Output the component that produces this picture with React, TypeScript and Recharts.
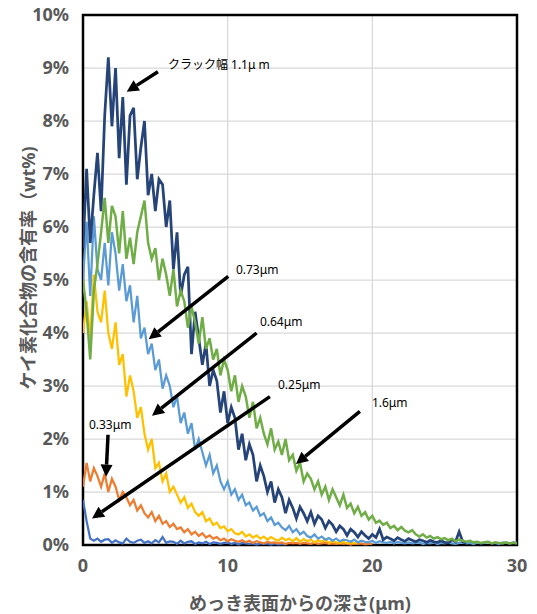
import React from 'react';
import { LineChart, Line, XAxis, YAxis, CartesianGrid, ReferenceLine, ReferenceDot, ReferenceArea } from 'recharts';

// depth step of the measurement (µm)
const STEP = 0.25;

const xTicks = [0, 10, 20, 30];
const yTicks = [0, 1, 2, 3, 4, 5, 6, 7, 8, 9, 10];

// silicide content (wt%) per crack width
const crack025 = [
  0.85, 0.45, 0.12, 0.08, 0.12, 0.06, 0.1, 0.11, 0.04, 0.09, 0.05, 0.03, 0.12, 0.06, 0.04, 0.08, 0.1, 0.04, 0.07, 0.03,
  0.09, 0.05, 0.15, 0.04, 0.07, 0.06, 0.02, 0.08, 0.03, 0.06, 0.07, 0.02, 0.05, 0.03, 0.06, 0.02, 0.05, 0.04, 0.02, 0.04,
  0.05, 0.02, 0.04, 0.01, 0.04, 0.03, 0.02, 0.03, 0.01, 0.03, 0.02, 0.03, 0.01, 0.03, 0.01, 0.02, 0.01,
];
const crack033 = [
  1.1, 1.55, 1.2, 1.45, 1.3, 1.1, 1.35, 1.0, 1.25, 1.1, 0.85, 1.0, 0.9, 0.75, 0.85, 0.65, 0.75, 0.6, 0.52, 0.62,
  0.45, 0.55, 0.4, 0.45, 0.34, 0.4, 0.3, 0.33, 0.24, 0.3, 0.2, 0.25, 0.17, 0.22, 0.14, 0.18, 0.12, 0.15, 0.09, 0.12,
  0.07, 0.11, 0.08, 0.06, 0.09, 0.05, 0.08, 0.04, 0.07, 0.05, 0.03, 0.06, 0.04, 0.05, 0.03, 0.05, 0.02, 0.04, 0.03, 0.04,
  0.02, 0.04, 0.03, 0.02, 0.04, 0.02, 0.03, 0.04, 0.02, 0.03, 0.02, 0.03, 0.02, 0.03, 0.01, 0.03, 0.02, 0.03, 0.01, 0.02, 0.02,
];
const crack064 = [
  4.0, 4.6, 3.9, 5.1, 4.4, 4.2, 4.8, 4.0, 3.7, 4.2, 3.4, 3.6, 2.8, 3.2, 2.9, 2.4, 2.6, 2.1, 1.8, 2.0,
  1.45, 1.55, 1.2, 1.35, 1.0, 1.1, 0.95, 0.8, 0.9, 0.7, 0.78, 0.62, 0.55, 0.62, 0.45, 0.5, 0.38, 0.42, 0.32, 0.35,
  0.26, 0.3, 0.22, 0.2, 0.25, 0.16, 0.2, 0.14, 0.18, 0.12, 0.16, 0.1, 0.15, 0.11, 0.08, 0.14, 0.09, 0.12, 0.07, 0.13,
  0.06, 0.11, 0.07, 0.1, 0.05, 0.09, 0.06, 0.1, 0.04, 0.07, 0.05, 0.04, 0.06, 0.03, 0.05, 0.03, 0.04,
];
const crack073 = [
  5.0, 6.1, 4.7, 6.2, 5.2, 5.0, 5.7, 4.9, 5.9, 5.5, 4.8, 5.3, 4.6, 4.9, 4.2, 4.7, 3.9, 4.1, 3.6, 3.8,
  3.3, 3.5, 2.95, 3.2, 3.0, 2.6, 2.8, 2.3, 2.5, 2.1, 2.3, 1.8, 2.0, 1.75, 1.5, 1.7, 1.35, 1.5, 1.2, 1.05,
  1.2, 0.95, 1.05, 0.85, 0.95, 0.75, 0.8, 0.65, 0.72, 0.55, 0.6, 0.45, 0.52, 0.38, 0.42, 0.33, 0.28, 0.36, 0.24, 0.3,
  0.2, 0.25, 0.17, 0.14, 0.2, 0.12, 0.16, 0.1, 0.13, 0.08, 0.12, 0.07, 0.1, 0.09, 0.06, 0.1, 0.05, 0.08, 0.06, 0.05,
  0.08, 0.04, 0.07, 0.05, 0.04, 0.06, 0.03, 0.06, 0.04, 0.03, 0.05, 0.03, 0.04, 0.05, 0.02, 0.04, 0.03, 0.05, 0.02, 0.04,
  0.03, 0.05, 0.03, 0.02, 0.04, 0.05, 0.03, 0.04, 0.02, 0.05, 0.03, 0.04, 0.06, 0.03, 0.04, 0.02, 0.05, 0.04, 0.03, 0.05, 0.04,
];
const crack110 = [
  5.6, 7.1, 5.7, 6.6, 7.4, 6.3, 8.1, 9.2, 7.9, 9.0, 7.3, 8.45, 6.8, 8.1, 8.25, 6.9, 7.5, 8.0, 6.6, 7.0,
  6.3, 6.9, 6.8, 6.0, 6.5, 5.2, 5.9, 4.7, 5.1, 5.25, 3.6, 4.4, 3.9, 3.4, 3.8, 3.0, 3.3, 3.1, 2.5, 2.9,
  2.3, 2.6, 2.4, 1.8, 2.1, 1.6, 1.9, 1.7, 1.2, 1.5, 1.3, 1.0, 1.2, 0.8, 1.05, 0.9, 0.6, 0.85, 0.7, 0.5,
  0.72, 0.6, 0.45, 0.62, 0.4, 0.55, 0.48, 0.32, 0.45, 0.38, 0.25, 0.36, 0.3, 0.18, 0.3, 0.24, 0.15, 0.25, 0.18, 0.12,
  0.2, 0.14, 0.3, 0.1, 0.15, 0.12, 0.08, 0.14, 0.1, 0.07, 0.12, 0.09, 0.06, 0.1, 0.08, 0.05, 0.09, 0.06, 0.05, 0.08,
  0.05, 0.04, 0.1, 0.06, 0.25, 0.06, 0.04,
];
const crack160 = [
  5.0, 4.4, 3.5, 4.8, 5.3, 5.9, 6.55, 5.7, 6.4, 6.2, 5.5, 6.3, 5.4, 5.8, 5.3, 5.9, 6.2, 6.5, 5.7, 5.4,
  5.6, 5.0, 5.4, 5.1, 4.7, 5.2, 4.5, 4.8, 4.6, 4.1, 4.5, 4.2, 3.8, 4.3, 3.7, 3.9, 3.5, 3.7, 3.2, 3.5,
  3.3, 2.9, 3.2, 2.7, 3.0, 2.8, 2.4, 2.7, 2.2, 2.4, 2.1, 1.9, 2.2, 1.8, 1.95, 1.7, 2.0, 1.6, 1.7, 1.4,
  1.55, 1.2, 1.35, 1.25, 1.05, 1.2, 0.95, 1.1, 0.85, 1.05, 0.9, 0.75, 0.95, 0.7, 0.78, 0.6, 0.72, 0.55, 0.62, 0.48,
  0.55, 0.42, 0.46, 0.38, 0.42, 0.32, 0.36, 0.28, 0.34, 0.27, 0.24, 0.28, 0.2, 0.16, 0.2, 0.14, 0.17, 0.12, 0.15, 0.11,
  0.13, 0.09, 0.12, 0.07, 0.1, 0.08, 0.06, 0.08, 0.05, 0.06, 0.04, 0.05, 0.06, 0.03, 0.05, 0.04, 0.03, 0.05, 0.03, 0.04, 0.03,
];

// annotation arrows: label text, label anchor, arrow tail, arrow tip (data coords)
const notes = [
  { text: 'クラック幅 1.1μ m', tx: 5.87, ty: 8.98, x1: 5.18, y1: 8.93, x2: 3.02, y2: 8.55 },
  { text: '0.73μm', tx: 10.57, ty: 5.12, x1: 10.04, y1: 5.07, x2: 4.54, y2: 3.88 },
  { text: '0.64μm', tx: 12.23, ty: 4.14, x1: 12.0, y1: 4.0, x2: 4.77, y2: 2.44 },
  { text: '0.25μm', tx: 13.48, ty: 2.95, x1: 12.92, y1: 2.8, x2: 0.62, y2: 0.5 },
  { text: '1.6μm', tx: 19.97, ty: 2.61, x1: 19.14, y1: 2.52, x2: 14.72, y2: 1.53 },
  { text: '0.33μm', tx: 0.41, ty: 2.19, x1: 1.73, y1: 2.08, x2: 1.59, y2: 1.29 },
];

const series = [
  { name: '0.25μm', values: crack025, color: '#4472C4', width: 2.25 },
  { name: '0.33μm', values: crack033, color: '#ED7D31', width: 2.25 },
  { name: '0.64μm', values: crack064, color: '#FFC000', width: 2.25 },
  { name: '0.73μm', values: crack073, color: '#5B9BD5', width: 2.25 },
  { name: '1.1μm', values: crack110, color: '#264478', width: 2.75 },
  { name: '1.6μm', values: crack160, color: '#70AD47', width: 2.5 },
];

const toPoints = (vals: number[]) => vals.map((v, i) => ({ depth: i * STEP, value: v }));

const FONT = '"Noto Sans", "Noto Sans CJK JP", sans-serif';
const GRAY = '#595959';

const Arrow = (props: any) => {
  const { x1, y1, x2, y2 } = props;
  const ang = Math.atan2(y2 - y1, x2 - x1);
  const len = 12;
  const half = 6;
  const bx = x2 - len * Math.cos(ang);
  const by = y2 - len * Math.sin(ang);
  const px = -Math.sin(ang) * half;
  const py = Math.cos(ang) * half;
  return (
    <g>
      <line x1={x1} y1={y1} x2={bx} y2={by} stroke="#000" strokeWidth={3.5} />
      <polygon points={`${x2},${y2} ${bx + px},${by + py} ${bx - px},${by - py}`} fill="#000" />
    </g>
  );
};

const YTitle = (props: any) => {
  const { viewBox } = props;
  const cx = viewBox.x + 28;
  const cy = viewBox.y + viewBox.height / 2 - 12;
  return (
    <text
      transform={`translate(${cx}, ${cy}) rotate(-90)`}
      textAnchor="middle"
      dominantBaseline="central"
      fill={GRAY}
      fontSize={18}
      fontWeight="bold"
      fontFamily={FONT}
    >
      ケイ素化合物の含有率（wt%)
    </text>
  );
};

const App: React.FC = () => {
  return (
    <div style={{ position: 'absolute', left: 0, top: 0, width: 537, height: 614, background: '#fff' }}>
      <LineChart width={537} height={614} margin={{ top: 15, right: 20, left: 0, bottom: 0 }}>
        <CartesianGrid stroke="#d9d9d9" strokeWidth={1.25} />
        <XAxis
          type="number"
          dataKey="depth"
          domain={[0, 30]}
          allowDataOverflow
          ticks={xTicks}
          height={69}
          axisLine={false}
          tickLine={false}
          tickSize={0}
          tickMargin={14}
          tick={{ fill: GRAY, fontSize: 18, fontWeight: 'bold', fontFamily: FONT }}
          label={{
            value: 'めっき表面からの深さ(μm)',
            position: 'insideBottom',
            offset: 4,
            style: { fill: GRAY, fontSize: 18, fontWeight: 'bold', fontFamily: FONT },
          }}
        />
        <YAxis
          type="number"
          dataKey="value"
          domain={[0, 10]}
          ticks={yTicks}
          width={83}
          axisLine={false}
          tickLine={false}
          tickSize={0}
          tickMargin={14}
          tickFormatter={(v: number) => `${v}%`}
          tick={{ fill: GRAY, fontSize: 18, fontWeight: 'bold', fontFamily: FONT }}
          label={<YTitle />}
        />
        {series.map((s) => (
          <Line
            key={s.name}
            data={toPoints(s.values)}
            dataKey="value"
            name={s.name}
            type="linear"
            stroke={s.color}
            strokeWidth={s.width}
            dot={false}
            activeDot={false}
            isAnimationActive={false}
          />
        ))}
        <ReferenceArea x1={0} x2={30} y1={0} y2={10} fill="none" stroke="#000" strokeWidth={2.5} ifOverflow="visible" />
        {notes.map((n) => (
          <ReferenceLine
            key={'a' + n.text}
            segment={[{ x: n.x1, y: n.y1 }, { x: n.x2, y: n.y2 }]}
            shape={<Arrow />}
            ifOverflow="visible"
          />
        ))}
        {notes.map((n) => (
          <ReferenceDot
            key={'t' + n.text}
            x={n.tx}
            y={n.ty}
            r={0}
            ifOverflow="visible"
            shape={(p: any) => (
              <text x={p.cx} y={p.cy} fontSize={12} fill="#000" fontFamily={FONT}>
                {n.text}
              </text>
            )}
          />
        ))}
      </LineChart>
    </div>
  );
};

export default App;
